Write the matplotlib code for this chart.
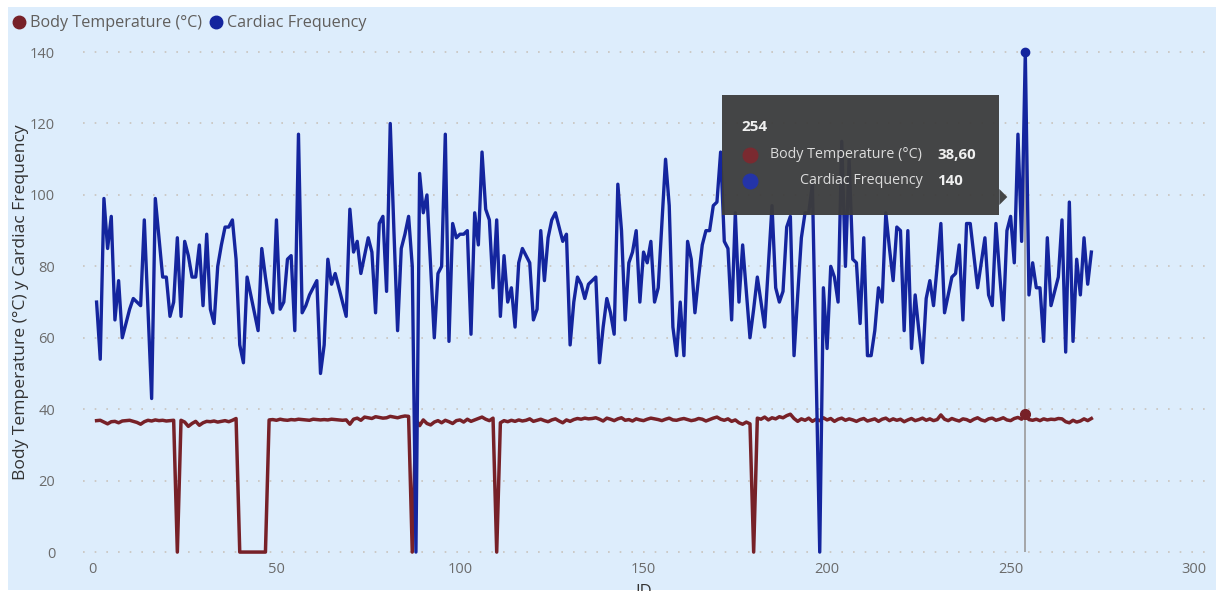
import matplotlib
matplotlib.use("Agg")
import matplotlib.pyplot as plt
from matplotlib.lines import Line2D
from matplotlib.patches import Rectangle, Polygon

# data (ID 1..272)
ids = list(range(1, 273))

cardiac = [
    70, 54, 99, 85, 94, 65, 76, 60, 64, 68,
    71, 70, 69, 93, 68, 43, 99, 88, 77, 77,
    66, 70, 88, 66, 87, 83, 77, 77, 86, 69,
    89, 68, 64, 80, 86, 91, 91, 93, 82, 58,
    53, 77, 72, 67, 62, 85, 77, 70, 67, 93,
    68, 70, 82, 83, 62, 117, 67, 69, 72, 74,
    76, 50, 58, 82, 75, 78, 74, 70, 66, 96,
    84, 87, 78, 83, 88, 84, 67, 92, 94, 73,
    120, 90, 62, 85, 89, 94, 80, 0, 106, 95,
    100, 80, 60, 78, 80, 117, 59, 92, 88, 89,
    89, 90, 61, 95, 86, 112, 96, 93, 74, 93,
    66, 83, 70, 74, 63, 81, 85, 83, 81, 65,
    68, 90, 76, 88, 93, 95, 91, 87, 89, 58,
    70, 77, 75, 71, 75, 76, 77, 53, 63, 71,
    67, 61, 103, 90, 65, 81, 84, 90, 70, 84,
    81, 87, 70, 74, 92, 110, 97, 63, 55, 70,
    55, 87, 82, 67, 77, 86, 90, 90, 97, 98,
    112, 87, 85, 65, 95, 70, 86, 73, 60, 68,
    77, 70, 63, 80, 97, 74, 70, 73, 91, 94,
    55, 72, 88, 95, 95, 103, 52, 0, 74, 57,
    80, 77, 70, 115, 80, 110, 82, 81, 64, 88,
    55, 55, 62, 74, 70, 95, 85, 76, 91, 90,
    62, 90, 57, 72, 62, 53, 71, 76, 69, 80,
    92, 67, 72, 77, 78, 86, 65, 92, 92, 83,
    74, 81, 88, 72, 69, 92, 78, 65, 90, 94,
    81, 117, 87, 140, 72, 81, 74, 74, 59, 88,
    69, 73, 77, 93, 56, 98, 59, 82, 72, 88,
    75, 84,
]

temperature = [
    36.8, 36.9, 36.4, 35.9, 36.5, 36.6, 36.2, 36.7, 36.8, 36.9,
    36.6, 36.3, 35.8, 36.5, 36.9, 36.7, 37.0, 36.8, 36.9, 36.7,
    36.8, 36.9, 0, 36.9, 36.4, 35.2, 36.0, 36.6, 35.5, 36.2,
    36.6, 36.5, 36.7, 36.4, 36.6, 36.8, 36.5, 36.9, 37.4, 0,
    0, 0, 0, 0, 0, 0, 0, 37.0, 37.1, 36.9,
    37.2, 37.0, 36.9, 37.1, 37.0, 37.2, 37.1, 37.0, 36.9, 37.2,
    37.1, 37.0, 37.1, 37.0, 37.2, 37.1, 37.0, 36.9, 37.0, 35.8,
    37.2, 37.5, 36.9, 37.8, 37.6, 37.4, 37.9, 37.7, 37.5, 37.6,
    38.0, 37.8, 37.6, 37.9, 38.1, 38.0, 0, 37.2, 35.4, 37.0,
    36.0, 35.6, 36.4, 36.8, 36.2, 36.9, 36.5, 36.0, 36.8, 37.0,
    36.4, 37.2, 36.6, 37.0, 37.4, 37.8, 37.2, 36.8, 37.5, 0,
    36.2, 36.8, 36.5, 36.9, 36.6, 37.0, 36.7, 36.9, 37.3, 36.6,
    36.9, 37.2, 36.8, 36.5, 37.0, 37.3, 36.7, 36.2, 37.0, 36.6,
    37.1, 37.4, 37.2, 37.5, 37.3, 37.4, 37.6, 37.2, 36.7, 37.5,
    37.2, 36.8, 37.3, 37.6, 36.9, 37.1, 36.7, 37.3, 37.0, 36.8,
    37.2, 37.5, 37.3, 37.1, 36.8, 37.2, 37.5, 37.0, 36.9, 37.2,
    37.4, 37.1, 36.8, 37.0, 37.4, 37.2, 36.7, 37.1, 37.5, 37.8,
    37.2, 36.9, 37.3, 36.6, 37.0, 36.2, 35.8, 36.4, 35.9, 0,
    37.5, 37.2, 37.8, 37.0, 37.6, 37.3, 37.9, 37.6, 38.2, 38.6,
    37.4, 36.6, 37.3, 36.9, 37.5, 36.6, 37.2, 36.8, 37.6, 37.0,
    37.4, 36.6, 37.2, 37.5, 36.9, 37.3, 37.0, 36.6, 37.1, 37.4,
    36.7, 37.0, 37.3, 36.6, 37.2, 37.5, 36.8, 37.3, 36.9, 37.2,
    36.5, 37.0, 37.4, 36.8, 37.1, 37.5, 36.9, 37.3, 36.8, 37.1,
    38.4, 37.2, 36.8, 37.4, 37.0, 36.7, 37.3, 37.1, 36.6, 37.2,
    37.6, 37.0, 36.7, 37.3, 37.5, 36.9, 37.2, 37.6, 37.0, 36.8,
    37.4, 37.7, 37.2, 38.6, 37.1, 36.9, 37.2, 36.8, 37.3, 37.0,
    37.2, 37.1, 37.4, 37.3, 36.5, 36.2, 36.9, 36.4, 36.7, 37.3,
    36.8, 37.4,
]

hover_id = 254
series_names = ["Body Temperature (°C)", "Cardiac Frequency"]
x_ticks = [0, 50, 100, 150, 200, 250, 300]
y_ticks = [0, 20, 40, 60, 80, 100, 120, 140]

assert len(cardiac) == len(ids) and len(temperature) == len(ids)

W, H = 1216, 596
BG = "#DDEDFC"
RED = "#772128"
BLUE = "#14259E"
GRAY = "#6b6b6b"
plt.rcParams["font.family"] = ["Open Sans", "DejaVu Sans"]


def fx(x):
    return x / W


def fy(y):
    return 1 - y / H


fig = plt.figure(figsize=(W / 100, H / 100), dpi=100)
fig.patch.set_facecolor("white")
fig.patches.append(Rectangle((fx(8), fy(590)), 1 - fx(8), fy(7) - fy(590),
                             transform=fig.transFigure, facecolor=BG,
                             edgecolor="none", zorder=-10))

ax = fig.add_axes([fx(83), fy(556), fx(1207) - fx(83), fy(46) - fy(556)])
ax.patch.set_alpha(0)
ax.set_xlim(-2.7, 303.5)
ax.set_ylim(-1.1, 141.7)

for s in ax.spines.values():
    s.set_visible(False)
ax.set_xticks(x_ticks)
ax.set_yticks(y_ticks)
ax.tick_params(length=0, colors=GRAY, labelsize=10.5)
ax.tick_params(axis="x", pad=4)
ax.tick_params(axis="y", pad=20)
ax.grid(axis="y", color="#c9c3bd", linestyle=(0, (1, 6)), linewidth=1.2)
ax.grid(axis="x", visible=False)
ax.set_axisbelow(True)

hi = ids.index(hover_id)
ax.vlines(hover_id, 0, cardiac[hi], color="#9a9a9a", linewidth=1.2,
          zorder=1.5)
ax.plot(ids, temperature, color=RED, linewidth=2.5, solid_joinstyle="round",
        zorder=3)
ax.plot(ids, cardiac, color=BLUE, linewidth=2.4, solid_joinstyle="round",
        zorder=4, clip_on=False)
ax.plot([hover_id], [temperature[hi]], "o", color=RED, markersize=7, zorder=5)
ax.plot([hover_id], [cardiac[hi]], "o", color=BLUE, markersize=6, zorder=5,
        clip_on=False)

fig.text(fx(21), fy(302), "Body Temperature (°C) y Cardiac Frequency",
         rotation=90, ha="center", va="center", fontsize=12.6,
         color="#333333")
# the axis title is partly hidden by the bottom edge of the visual, as in the source
fig.text(fx(644), fy(596), "ID", ha="center", va="baseline", fontsize=12,
         color="#333333")
fig.patches.append(Rectangle((0, 0), 1, fy(591), transform=fig.transFigure,
                             facecolor="white", edgecolor="none", zorder=20))

# legend
legend_x = [19, 216]
for name, c, lx in zip(series_names, (RED, BLUE), legend_x):
    fig.add_artist(Line2D([fx(lx)], [fy(22)], transform=fig.transFigure,
                          marker="o", linestyle="", color=c, markersize=9))
    fig.text(fx(lx + 11), fy(23), name, ha="left", va="center",
             fontsize=11.6, color="#605e5c")

# tooltip anchored on the hovered point
px_hover = ax.transData.transform((hover_id, 0))[0]
tip = px_hover - 18
bx0, bx1, by0, by1 = tip - 285, tip - 8, 95, 215
tip_color = "#3c3c3c"
fig.patches.append(Rectangle((fx(bx0), fy(by1)), fx(bx1) - fx(bx0),
                             fy(by0) - fy(by1), transform=fig.transFigure,
                             facecolor=tip_color, edgecolor="none", alpha=0.95,
                             zorder=10))
fig.patches.append(Polygon([(fx(bx1), fy(189)), (fx(tip), fy(197)),
                            (fx(bx1), fy(205))], closed=True,
                           transform=fig.transFigure, facecolor=tip_color,
                           edgecolor="none", alpha=0.95, zorder=10))
fig.text(fx(bx0 + 19), fy(127), str(hover_id), ha="left", va="center",
         fontsize=11, fontweight="bold", color="#f0f0f0", zorder=11)
for yy, c in ((155, "#7a2a30"), (181, "#2434a8")):
    fig.add_artist(Line2D([fx(bx0 + 28)], [fy(yy)], transform=fig.transFigure,
                          marker="o", linestyle="", color=c, markersize=10.5,
                          zorder=11))
fig.text(fx(bx0 + 200), fy(155), series_names[0], ha="right", va="center",
         fontsize=10.3, color="#dcdcdc", zorder=11)
fig.text(fx(bx0 + 200), fy(181), series_names[1], ha="right", va="center",
         fontsize=10.3, color="#dcdcdc", zorder=11)
fig.text(fx(bx0 + 215), fy(155), f"{temperature[hi]:.2f}".replace(".", ","),
         ha="left", va="center", fontsize=10.8, fontweight="bold",
         color="#f0f0f0", zorder=11)
fig.text(fx(bx0 + 215), fy(181), f"{cardiac[hi]}", ha="left", va="center",
         fontsize=10.8, fontweight="bold", color="#f0f0f0", zorder=11)

fig.savefig("out.png", dpi=100, facecolor=fig.get_facecolor())
